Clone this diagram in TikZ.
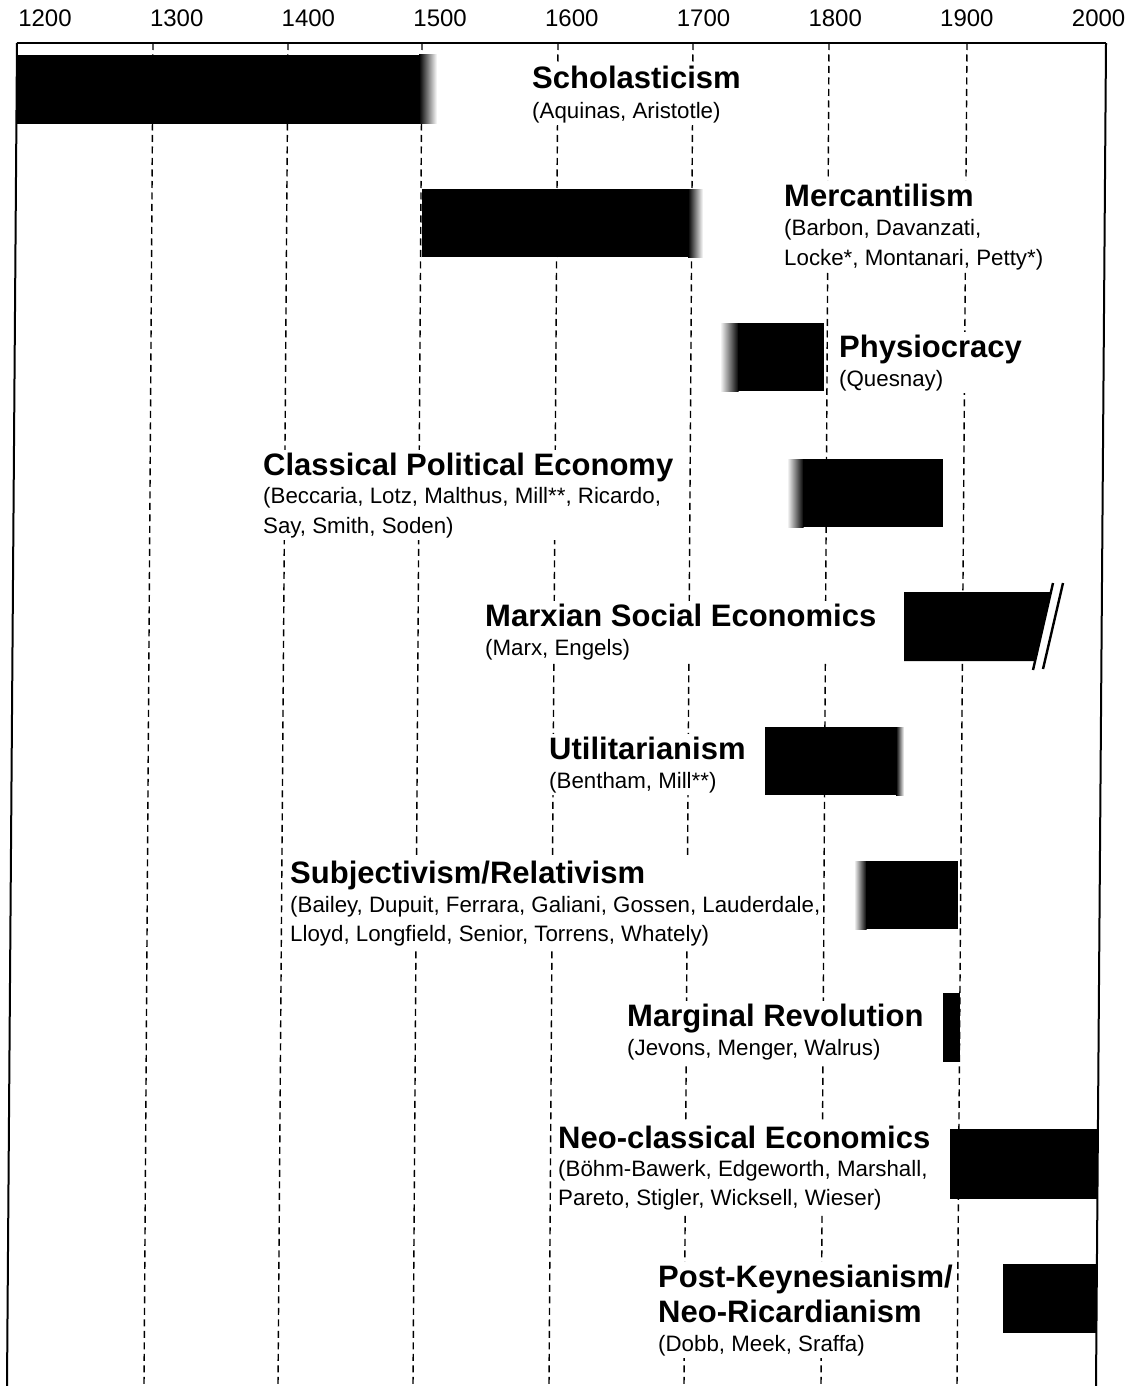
\documentclass[tikz,border=0pt]{standalone}
\usepackage{fontspec}
\setmainfont{Liberation Sans}
\usetikzlibrary{fit,backgrounds}
\begin{document}
\begin{tikzpicture}[x=1pt,y=-1pt,
  yearlbl/.style={anchor=base, inner sep=0pt, font=\fontsize{24}{28}\selectfont},
  ttl/.style={anchor=base west, inner sep=0pt, font=\fontsize{31}{36}\selectfont\bfseries},
  sub/.style={anchor=base west, inner sep=0pt, font=\fontsize{22.3}{30}\selectfont},
  txtbox/.style={fill=white, draw=none, inner sep=2.5pt},
  gridline/.style={line width=1.4pt, dash pattern=on 7pt off 4.5pt},
  framel/.style={line width=2pt},
  barfill/.style={fill=black},
  fadeR/.style={left color=black, right color=white},
  fadeL/.style={left color=white, right color=black},
  slashl/.style={line width=2.4pt}
]
\useasboundingbox (0,0) rectangle (1140,1386);

% year scale
\foreach \yr [count=\i from 0] in {1200,1300,...,2000}
  \node[yearlbl] (yr\yr) at ({45+131.7*\i},27) {\yr};

% period bars
\fill[barfill] (17,55) rectangle (419.5,124);
\shade[fadeR] (419,55) rectangle (437,124);

\fill[barfill] (422,189) rectangle (688.5,257);
\shade[fadeR] (688,189) rectangle (703,257);

\shade[fadeL] (720,323) rectangle (738.5,391);
\fill[barfill] (738,323) rectangle (824,391);

\shade[fadeL] (787,459) rectangle (803.5,527);
\fill[barfill] (803,459) rectangle (943,527);

\fill[barfill] (904,592) -- (1051,592) -- (1035,661) -- (904,661) -- cycle;
\draw[slashl] (1053,583) -- (1033,670);
\draw[slashl] (1063,583) -- (1043,669);

\fill[barfill] (765,727) rectangle (896.5,795);
\shade[fadeR] (896,727) rectangle (904,795);

\shade[fadeL] (854,861) rectangle (866.5,929);
\fill[barfill] (866,861) rectangle (958,929);

\fill[barfill] (943,993) rectangle (960,1062);
\fill[barfill] (950,1129) rectangle (1097,1199);
\fill[barfill] (1003,1264) rectangle (1096,1333);

% frame
\draw[framel] (17,43) -- (1106,43);
\draw[framel] (17,43) -- (7,1386);
\draw[framel] (1106,43) -- (1096,1386);

% schools and their authors
\node[ttl] (schT) at (532,89) {Scholasticism};
\node[sub] (schS) at (532,118) {(Aquinas, Aristotle)};

\node[ttl] (merT) at (784,206) {Mercantilism};
\node[sub] (merA) at (784,235) {(Barbon, Davanzati,};
\node[sub] (merB) at (784,265) {Locke*, Montanari, Petty*)};

\node[ttl] (phyT) at (839,357) {Physiocracy};
\node[sub] (phyS) at (839,386) {(Quesnay)};

\node[ttl] (claT) at (263,475) {Classical Political Economy};
\node[sub] (claA) at (263,503) {(Beccaria, Lotz, Malthus, Mill**, Ricardo,};
\node[sub] (claB) at (263,533) {Say, Smith, Soden)};

\node[ttl] (marT) at (485,626) {Marxian Social Economics};
\node[sub] (marS) at (485,655) {(Marx, Engels)};

\node[ttl] (utiT) at (549,759) {Utilitarianism};
\node[sub] (utiS) at (549,788) {(Bentham, Mill**)};

\node[ttl] (subT) at (290,883) {Subjectivism/Relativism};
\node[sub] (subA) at (290,912) {(Bailey, Dupuit, Ferrara, Galiani, Gossen, Lauderdale,};
\node[sub] (subB) at (290,941) {Lloyd, Longfield, Senior, Torrens, Whately)};

\node[ttl] (mrgT) at (627,1026) {Marginal Revolution};
\node[sub] (mrgS) at (627,1055) {(Jevons, Menger, Walrus)};

\node[ttl] (neoT) at (558,1148) {Neo-classical Economics};
\node[sub] (neoA) at (558,1176) {(Böhm-Bawerk, Edgeworth, Marshall,};
\node[sub] (neoB) at (558,1205) {Pareto, Stigler, Wicksell, Wieser)};

\node[ttl] (pkT) at (658,1287) {Post-Keynesianism/};
\node[ttl] (pkU) at (658,1322) {Neo-Ricardianism};
\node[sub] (pkS) at (658,1351) {(Dobb, Meek, Sraffa)};

% century grid and text backgrounds, behind everything else
\begin{scope}[on background layer]
  \foreach \xt/\xb in {153/144, 288/278, 422/413, 558/549, 693/684, 829/821, 967/957}
    \draw[gridline] (\xt,43) -- (\xb,1386);
  \node[txtbox, fit=(schT)(schS)] (schBox) {};
  \node[txtbox, fit=(merT)(merA)(merB)] (merBox) {};
  \node[txtbox, fit=(phyT)(phyS)] (phyBox) {};
  \node[txtbox, fit=(claT)(claA)(claB)] (claBox) {};
  \node[txtbox, fit=(marT)(marS)] (marBox) {};
  \node[txtbox, fit=(utiT)(utiS)] (utiBox) {};
  \node[txtbox, fit=(subT)(subA)(subB)] (subBox) {};
  \node[txtbox, fit=(mrgT)(mrgS)] (mrgBox) {};
  \node[txtbox, fit=(neoT)(neoA)(neoB)] (neoBox) {};
  \node[txtbox, fit=(pkT)(pkU)(pkS)] (pkBox) {};
\end{scope}
\end{tikzpicture}
\end{document}
